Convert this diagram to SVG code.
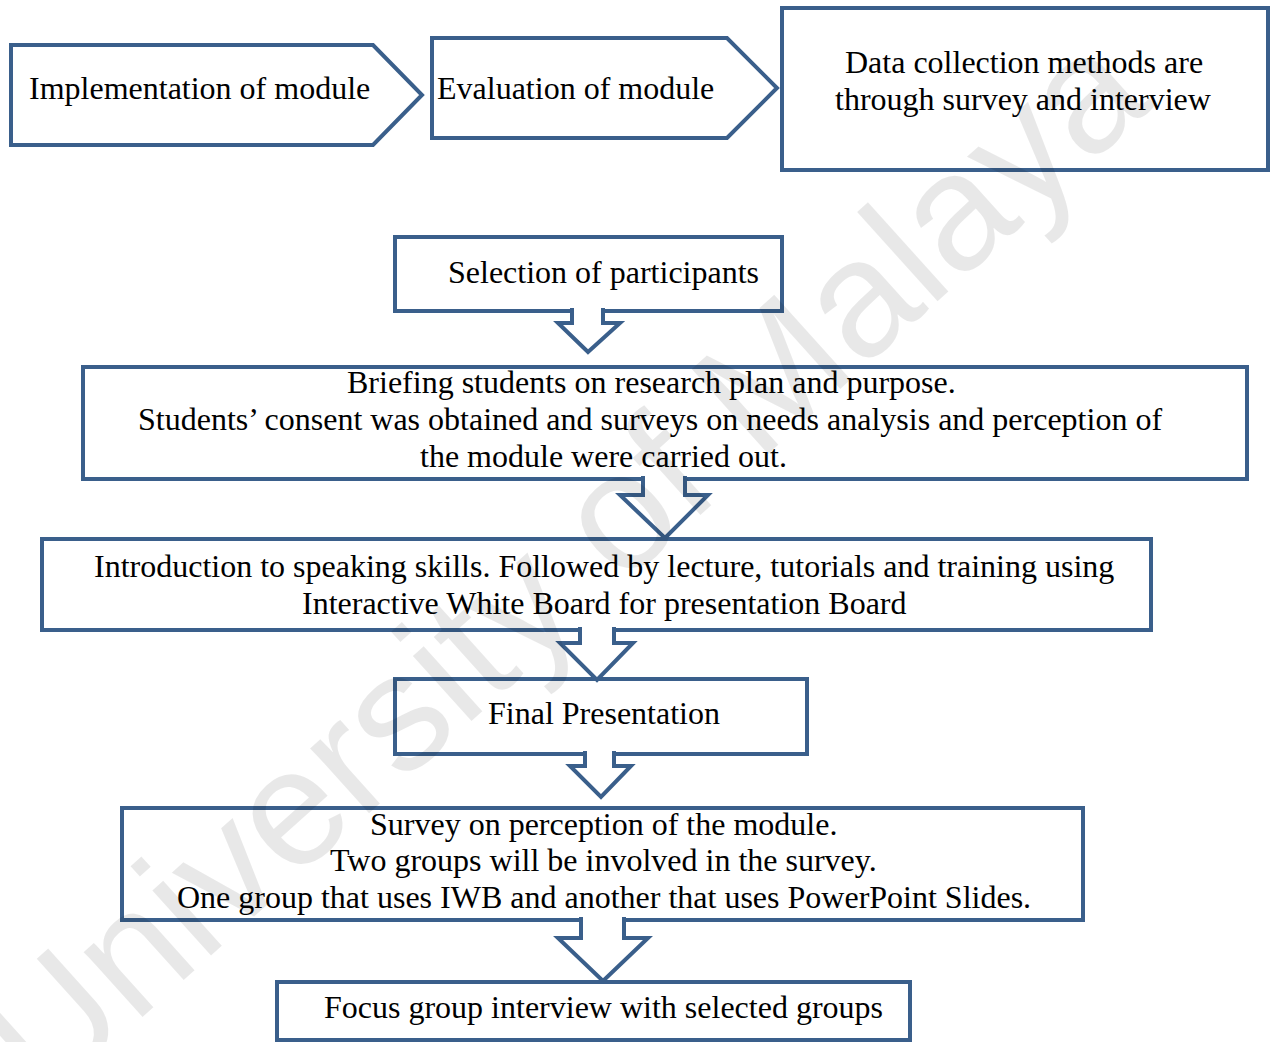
<svg xmlns="http://www.w3.org/2000/svg" width="1276" height="1042" viewBox="0 0 1276 1042">
<style>
.b{fill:none;stroke:#3A5F8B;stroke-width:4}
.a{fill:#fff;stroke:#3A5F8B;stroke-width:4;stroke-linejoin:miter}
.t{font-family:"Liberation Serif","Times New Roman",serif;font-size:32px;fill:#000}
.w{font-family:"Liberation Sans",Arial,sans-serif;font-size:166px;fill:#000;fill-opacity:0.09}
</style>
<rect width="1276" height="1042" fill="#fff"/>
<g id="n1"><polygon class="b" points="11,45 373,45 422,95 373,145 11,145"/><text class="t" x="29" y="99">Implementation of module</text></g>
<g id="n2"><polygon class="b" points="432,38 727,38 777,88 727,138 432,138"/><text class="t" x="437" y="99">Evaluation of module</text></g>
<g id="n3"><rect class="b" x="782" y="8" width="486" height="162"/><text class="t" x="845" y="73">Data collection methods are</text><text class="t" x="835" y="110">through survey and interview</text></g>
<g id="n4"><rect class="b" x="395" y="237" width="387" height="74"/><text class="t" x="448" y="283">Selection of participants</text></g>
<g id="n5"><rect class="b" x="83" y="367" width="1164" height="112"/><text class="t" x="347" y="393">Briefing students on research plan and purpose.</text><text class="t" x="138" y="430">Students’ consent was obtained and surveys on needs analysis and perception of</text><text class="t" x="420" y="467">the module were carried out.</text></g>
<g id="n6"><rect class="b" x="42" y="539" width="1109" height="91"/><text class="t" x="94" y="577">Introduction to speaking skills. Followed by lecture, tutorials and training using</text><text class="t" x="302" y="614">Interactive White Board for presentation Board</text></g>
<g id="n7"><rect class="b" x="395" y="679" width="412" height="75"/><text class="t" x="488" y="724">Final Presentation</text></g>
<g id="n8"><rect class="b" x="122" y="808" width="961" height="112"/><text class="t" x="370" y="835">Survey on perception of the module.</text><text class="t" x="330" y="871">Two groups will be involved in the survey.</text><text class="t" x="177" y="908">One group that uses IWB and another that uses PowerPoint Slides.</text></g>
<g id="n9"><rect class="b" x="277" y="982" width="633" height="58"/><text class="t" x="324" y="1018">Focus group interview with selected groups</text></g>
<g id="connectors">
<path class="a" d="M572,308 L572,323 L558,323 L588,352 L620,323 L603,323 L603,308"/>
<path class="a" d="M643,476 L643,495 L620,495 L665,538 L708,495 L685,495 L685,476"/>
<path class="a" d="M580,627 L580,643 L560,643 L597,680 L633,643 L614,643 L614,627"/>
<path class="a" d="M585,751 L585,766 L570,766 L601,797 L631,766 L614,766 L614,751"/>
<path class="a" d="M581,917 L581,938 L558,938 L603,981 L648,938 L624,938 L624,917"/>
</g>
<text class="w" transform="translate(45,1105) rotate(-42)">University of Malaya</text>
</svg>
